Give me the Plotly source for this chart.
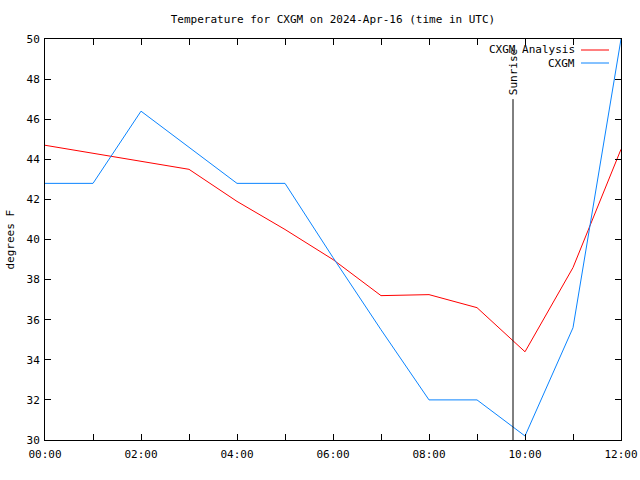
import plotly.graph_objects as go

hours = [0, 1, 2, 3, 4, 5, 6, 7, 8, 9, 10, 11, 12]
tick_labels = ["00:00", "", "02:00", "", "04:00", "", "06:00", "", "08:00", "", "10:00", "", "12:00"]
analysis = [44.7, 44.3, 43.9, 43.5, 41.9, 40.5, 39.0, 37.2, 37.25, 36.6, 34.4, 38.6, 44.5]
observed = [42.8, 42.8, 46.4, 44.6, 42.8, 42.8, 39.1, 35.5, 32.0, 32.0, 30.2, 35.6, 50.0]
y_ticks = [30, 32, 34, 36, 38, 40, 42, 44, 46, 48, 50]
sunrise_hour = 9.75
sunrise_top = 47

FONT = "DejaVu Sans Mono"
RED = "#ff0000"
BLUE = "#0a84ff"

fig = go.Figure()
fig.add_trace(go.Scatter(x=hours, y=analysis, mode="lines", name="CXGM Analysis",
                         line=dict(color=RED, width=1), showlegend=False))
fig.add_trace(go.Scatter(x=hours, y=observed, mode="lines", name="CXGM",
                         line=dict(color=BLUE, width=1), showlegend=False))

# Sunrise marker
fig.add_shape(type="line", xref="x", yref="y", x0=sunrise_hour, x1=sunrise_hour,
              y0=y_ticks[0], y1=sunrise_top, line=dict(color="black", width=1))
fig.add_annotation(x=sunrise_hour, y=sunrise_top, xref="x", yref="y", text="Sunrise",
                   textangle=-90, showarrow=False, yanchor="bottom", yshift=2,
                   font=dict(family=FONT, size=11, color="black"))

# gnuplot-style legend: text then line sample
legend_items = [("CXGM Analysis", RED, 50), ("CXGM", BLUE, 63)]
for label, color, ypix in legend_items:
    yp = (480 - 40 - ypix) / (480 - 40 - 39)
    fig.add_annotation(x=1, y=yp, xref="paper", yref="paper", text=label,
                       showarrow=False, xanchor="right", yanchor="middle", xshift=-44,
                       font=dict(family=FONT, size=11, color="black"))
    fig.add_shape(type="line", xref="paper", yref="paper",
                  x0=(581 - 45) / 576, x1=(609 - 45) / 576, y0=yp, y1=yp,
                  line=dict(color=color, width=1))

fig.add_annotation(x=0, y=0.5, xref="paper", yref="paper", text="degrees F",
                   textangle=-90, showarrow=False, xanchor="center", xshift=-35,
                   font=dict(family=FONT, size=11, color="black"))

fig.update_layout(
    width=640, height=480,
    margin=dict(l=45, r=19, t=39, b=40, autoexpand=False),
    paper_bgcolor="white", plot_bgcolor="white",
    font=dict(family=FONT, size=11, color="black"),
    title=dict(text="Temperature for CXGM on 2024-Apr-16 (time in UTC)",
               x=(333) / 640, xanchor="center", y=1 - 19 / 480, yanchor="middle",
               font=dict(family=FONT, size=11, color="black")),
    xaxis=dict(range=[hours[0], hours[-1]], tickvals=hours, ticktext=tick_labels,
               ticks="inside", ticklen=6, tickcolor="black", showgrid=False,
               zeroline=False, showline=True, linecolor="black", linewidth=1,
               mirror="ticks", tickfont=dict(family=FONT, size=11), automargin=False,
               ticklabelstandoff=4),
    yaxis=dict(range=[y_ticks[0], y_ticks[-1]], tickvals=y_ticks,
               ticks="inside", ticklen=6, tickcolor="black", showgrid=False,
               zeroline=False, showline=True, linecolor="black", linewidth=1,
               mirror="ticks", tickfont=dict(family=FONT, size=11), automargin=False,
               ticklabelstandoff=2),
)

fig.write_html("out.html", config={"displayModeBar": False},
               post_script="document.body.style.margin='0';document.body.style.padding='0';document.body.style.overflow='hidden';")
